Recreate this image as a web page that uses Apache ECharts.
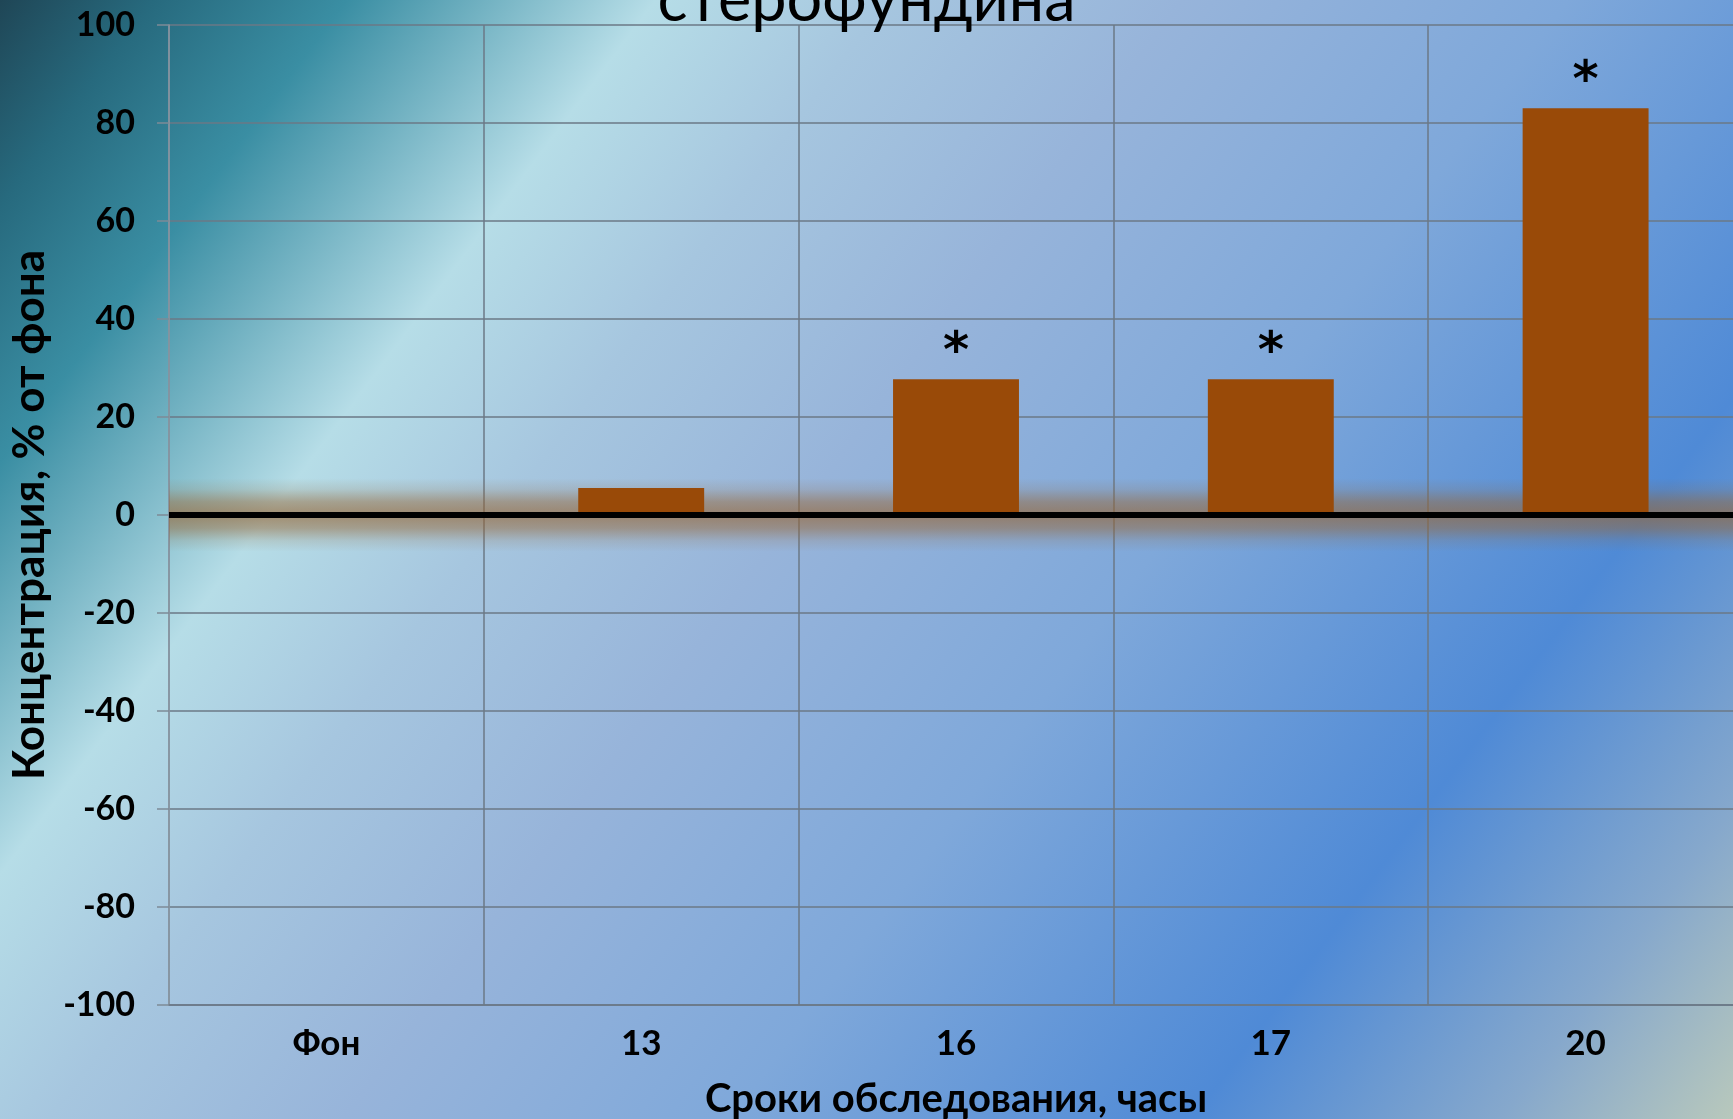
<!DOCTYPE html>
<html>
<head>
<meta charset="utf-8">
<script src="https://cdn.jsdelivr.net/npm/echarts@6/dist/echarts.min.js"></script>
<style>
  html, body { margin: 0; padding: 0; overflow: hidden; }
  #chart { width: 100vw; height: 100vh; }
</style>
</head>
<body>
<div id="chart"></div>
<script>
// Сроки обследования и концентрация относительно фона
const categories = ['Фон', '13', '16', '17', '20'];
const values = [0, 5.5, 27.7, 27.7, 83];
const marks = ['', '', '*', '*', '*'];   // достоверные отличия от фона
const yMin = -100;
const yMax = 100;
const yStep = 20;

const FONT = 'Lato, "Noto Sans", sans-serif';
const GRID = '#6b7886';
const GLOW = 'rgba(150,100,50,';

const chart = echarts.init(document.getElementById('chart'), null, { renderer: 'canvas' });
// макет задан для полотна 1733×1119 и масштабируется под фактический размер
const sx = chart.getWidth() / 1733;
const sy = chart.getHeight() / 1119;

chart.setOption({
  backgroundColor: {
    type: 'linear', global: true,
    x: 0, y: 0, x2: 1646 * sx, y2: 1234 * sy,
    colorStops: [
      { offset: 0.00, color: '#1f4656' },
      { offset: 0.06, color: '#276a7e' },
      { offset: 0.135, color: '#3a8ea3' },
      { offset: 0.255, color: '#b6dde7' },
      { offset: 0.345, color: '#a6c6df' },
      { offset: 0.46, color: '#97b4da' },
      { offset: 0.61, color: '#7fa8da' },
      { offset: 0.79, color: '#4f8ad6' },
      { offset: 0.91, color: '#86a8cc' },
      { offset: 1.00, color: '#b8c8bc' }
    ]
  },
  title: {
    text: 'стерофундина',
    left: 'center',
    top: -36 * sy,
    textStyle: { fontFamily: FONT, fontSize: 63, fontWeight: 'normal', color: '#000' }
  },
  grid: {
    left: 169 * sx, top: 25 * sy, width: 1574 * sx, height: 980 * sy,
    containLabel: false,
    outerBoundsMode: 'none'
  },
  xAxis: {
    type: 'category',
    data: categories,
    boundaryGap: true,
    name: 'Сроки обследования, часы',
    nameLocation: 'middle',
    nameGap: 74,
    nameTextStyle: { fontFamily: FONT, fontSize: 40, fontWeight: 'bold', color: '#000' },
    axisLine: { show: true, onZero: false, lineStyle: { color: GRID, width: 1.5 } },
    axisTick: { show: false },
    axisLabel: { fontFamily: FONT, fontSize: 35, fontWeight: 'bold', color: '#000', margin: 21 },
    splitLine: { show: true, lineStyle: { color: GRID, width: 1.5 } }
  },
  yAxis: {
    type: 'value',
    min: yMin,
    max: yMax,
    interval: yStep,
    name: 'Концентрация, % от фона',
    nameLocation: 'middle',
    nameGap: 115,
    nameRotate: 90,
    nameTextStyle: { fontFamily: FONT, fontSize: 44, fontWeight: 'bold', color: '#000' },
    axisLine: { show: true, lineStyle: { color: '#8d9aa6', width: 1.5 } },
    axisTick: { show: true, length: 12, lineStyle: { color: '#7d8a96', width: 1.5 } },
    axisLabel: { fontFamily: FONT, fontSize: 34, fontWeight: 'bold', color: '#000', margin: 34 },
    splitLine: { show: true, lineStyle: { color: GRID, width: 1.5 } }
  },
  series: [
    {
      // мягкое коричневое свечение вдоль нулевой линии
      type: 'line',
      data: [],
      z: 1,
      silent: true,
      markArea: {
        silent: true,
        label: { show: false },
        itemStyle: {
          color: {
            type: 'linear', x: 0, y: 0, x2: 0, y2: 1,
            colorStops: [
              { offset: 0.00, color: GLOW + '0)' },
              { offset: 0.15, color: GLOW + '0.15)' },
              { offset: 0.32, color: GLOW + '0.48)' },
              { offset: 0.50, color: GLOW + '0.65)' },
              { offset: 0.68, color: GLOW + '0.48)' },
              { offset: 0.85, color: GLOW + '0.15)' },
              { offset: 1.00, color: GLOW + '0)' }
            ]
          }
        },
        data: [[{ yAxis: -7.5 }, { yAxis: 7.5 }]]
      }
    },
    {
      type: 'bar',
      data: values,
      barWidth: '40%',
      z: 3,
      itemStyle: { color: '#994a08' },
      label: {
        show: true,
        position: 'top',
        distance: 0,
        formatter: p => marks[p.dataIndex],
        fontFamily: '"DejaVu Sans", sans-serif',
        fontSize: 50,
        fontWeight: 'bold',
        color: '#000'
      }
    },
    {
      // нулевая линия поверх столбцов
      type: 'line',
      data: [],
      z: 5,
      silent: true,
      markLine: {
        silent: true,
        symbol: 'none',
        label: { show: false },
        lineStyle: { color: '#000', width: 6, type: 'solid' },
        data: [{ yAxis: 0 }]
      }
    }
  ]
});
</script>
</body>
</html>
